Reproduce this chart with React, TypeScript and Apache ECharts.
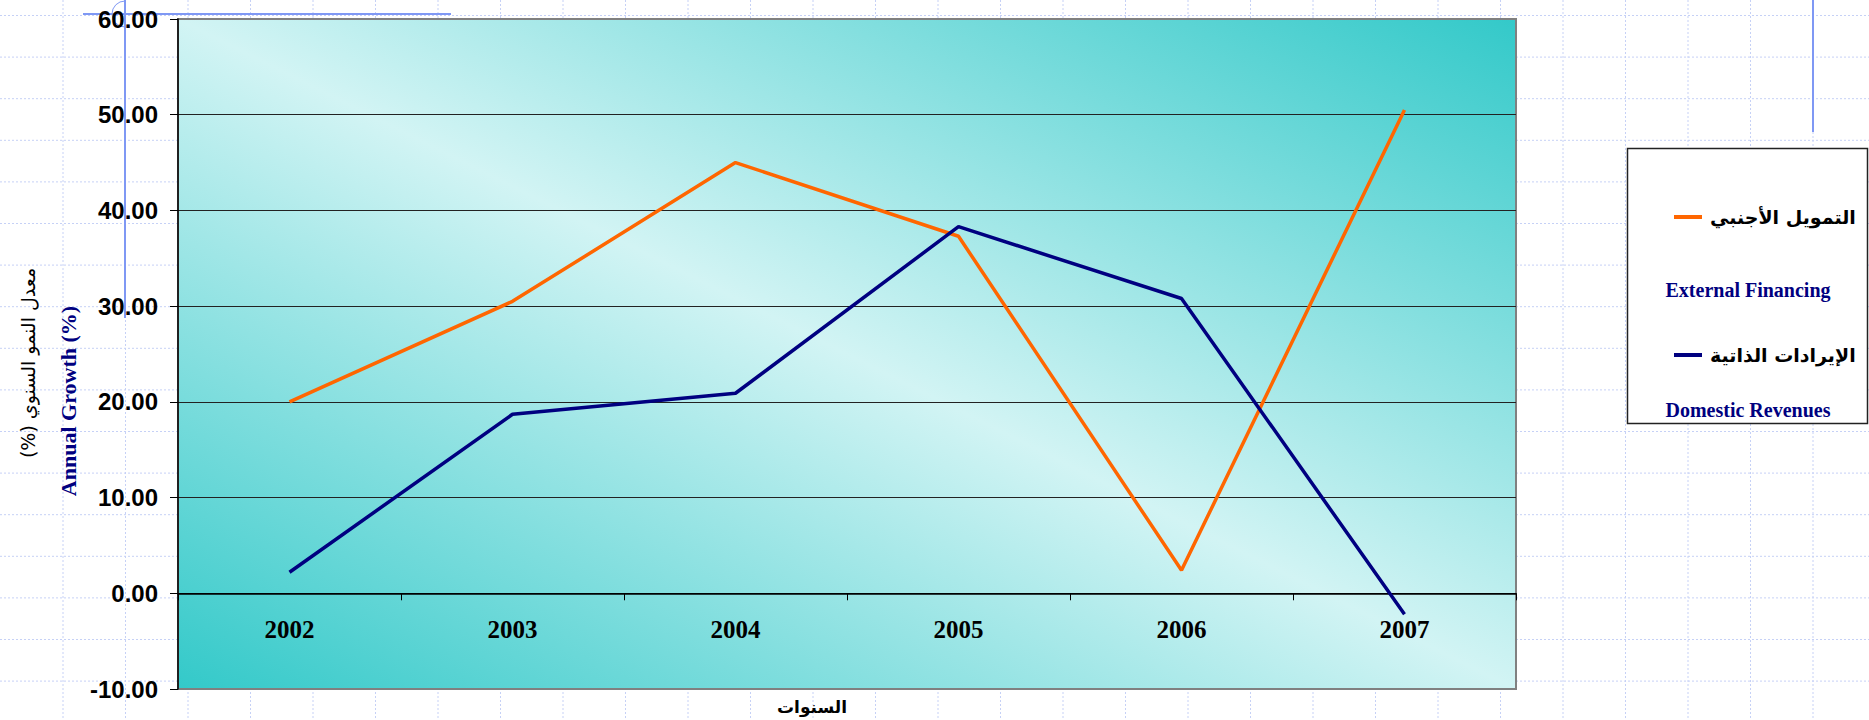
import React, { useEffect, useRef } from 'react';
import * as echarts from 'echarts';

const years = ['2002', '2003', '2004', '2005', '2006', '2007'];
const externalFinancing = [20.0, 30.5, 45.0, 37.3, 2.4, 50.5];
const domesticRevenues = [2.2, 18.7, 20.9, 38.3, 30.8, -2.2];
const seriesNamesAr = ['التمويل الأجنبي', 'الإيرادات الذاتية'];
const seriesNamesEn = ['External Financing', 'Domestic Revenues'];
const seriesColors = ['#ff6600', '#000080'];
const yMin = -10;
const yMax = 60;
const yStep = 10;
const yAxisTitleAr = 'معدل النمو السنوي (%)\u200F';
const yAxisTitleEn = 'Annual Growth (%)';
const xAxisTitle = 'السنوات';

const W = 1869;
const H = 720;

function backgroundGrid(): any[] {
  const els: any[] = [];
  const dot = { stroke: '#c6d1f6', lineWidth: 1, lineDash: [2, 2] };
  for (let k = 0; k <= 16; k++) {
    const y = 15.5 + 41.6 * k;
    els.push({ type: 'line', z: -20, silent: true, shape: { x1: 0, y1: y, x2: W, y2: y }, style: dot });
  }
  for (let k = 1; k <= 29; k++) {
    const x = 62.5 * k + 0.5;
    els.push({ type: 'line', z: -20, silent: true, shape: { x1: x, y1: 0, x2: x, y2: H }, style: dot });
  }
  const blue = { stroke: '#7f98f4', lineWidth: 2 };
  els.push({ type: 'line', z: -10, silent: true, shape: { x1: 83, y1: 14, x2: 451, y2: 14 }, style: blue });
  els.push({ type: 'line', z: -10, silent: true, shape: { x1: 125, y1: 0, x2: 125, y2: 318 }, style: blue });
  els.push({ type: 'arc', z: -10, silent: true, shape: { cx: 125, cy: 14, r: 13, startAngle: Math.PI / 2, endAngle: (3 * Math.PI) / 2 }, style: { stroke: '#7f98f4', lineWidth: 1, fill: 'none' } });
  els.push({ type: 'line', z: -10, silent: true, shape: { x1: 1813, y1: 0, x2: 1813, y2: 132 }, style: blue });
  return els;
}

function legendBox(): any[] {
  const els: any[] = [];
  els.push({ type: 'rect', z: 5, shape: { x: 1627.5, y: 148.5, width: 240, height: 275 }, style: { fill: '#ffffff', stroke: '#222', lineWidth: 1.5 } });
  const rows = [217, 355];
  const enRows = [290, 410];
  for (let i = 0; i < 2; i++) {
    els.push({ type: 'line', z: 6, shape: { x1: 1674, y1: rows[i], x2: 1702, y2: rows[i] }, style: { stroke: seriesColors[i], lineWidth: 4 } });
    els.push({ type: 'text', z: 6, x: 1710, y: rows[i], style: { text: seriesNamesAr[i], fill: '#000', font: 'bold 19px "DejaVu Sans", Arial, sans-serif', align: 'left', verticalAlign: 'middle' } });
    els.push({ type: 'text', z: 6, x: 1748, y: enRows[i], style: { text: seriesNamesEn[i], fill: '#000080', font: 'bold 20px "Liberation Serif", "Times New Roman", serif', align: 'center', verticalAlign: 'middle' } });
  }
  return els;
}

export default function App() {
  const ref = useRef<HTMLDivElement>(null);
  useEffect(() => {
    if (!ref.current) return;
    const chart = echarts.init(ref.current, null, { renderer: 'svg', width: W, height: H });
    const gx = 178, gy = 19, gw = 1338, gh = 670;
    // distance of the zero line above the grid bottom, from the value scale
    const zeroOffset = ((0 - yMin) / (yMax - yMin)) * gh;
    const option: any = {
      animation: false,
      backgroundColor: '#ffffff',
      grid: {
        left: gx,
        top: gy,
        width: gw,
        height: gh,
        containLabel: false,
        outerBoundsMode: 'none',
        show: true,
        borderColor: '#808080',
        borderWidth: 2,
        backgroundColor: new echarts.graphic.LinearGradient(0, 1, 1, 0, [
          { offset: 0, color: '#33c9c9' },
          { offset: 0.5, color: '#d2f4f4' },
          { offset: 1, color: '#33c9c9' },
        ]),
      },
      xAxis: {
        type: 'category',
        data: years,
        boundaryGap: true,
        position: 'bottom',
        offset: -zeroOffset,
        axisLine: { show: true, onZero: false, lineStyle: { color: '#000', width: 1.5 } },
        axisTick: { show: true, length: 7, lineStyle: { color: '#000', width: 1 } },
        axisLabel: {
          margin: 24,
          color: '#000',
          fontFamily: '"Liberation Serif", "Times New Roman", serif',
          fontWeight: 'bold',
          fontSize: 25,
        },
        splitLine: { show: false },
      },
      yAxis: {
        type: 'value',
        min: yMin,
        max: yMax,
        interval: yStep,
        axisLine: { show: true, lineStyle: { color: '#000', width: 1.5 } },
        axisTick: { show: true, length: 8, lineStyle: { color: '#000' } },
        axisLabel: {
          margin: 20,
          color: '#000',
          fontFamily: '"Liberation Sans", Arial, sans-serif',
          fontWeight: 'bold',
          fontSize: 24,
          formatter: (v: number) => v.toFixed(2),
        },
        splitLine: {
          show: true,
          lineStyle: { color: ['#808080', '#000', '#222', '#222', '#222', '#222', '#222', '#808080'], width: 1 },
        },
      },
      series: [
        {
          name: seriesNamesAr[0],
          type: 'line',
          data: externalFinancing,
          symbol: 'none',
          lineStyle: { color: seriesColors[0], width: 3.5 },
          itemStyle: { color: seriesColors[0] },
          z: 3,
        },
        {
          name: seriesNamesAr[1],
          type: 'line',
          data: domesticRevenues,
          symbol: 'none',
          lineStyle: { color: seriesColors[1], width: 3.5 },
          itemStyle: { color: seriesColors[1] },
          z: 4,
        },
      ],
      graphic: [
        ...backgroundGrid(),
        ...legendBox(),
        {
          type: 'text',
          x: 28,
          y: 363,
          rotation: Math.PI / 2,
          style: { text: yAxisTitleAr, fill: '#000', font: '19px "DejaVu Sans", Arial, sans-serif', align: 'center', verticalAlign: 'middle' },
        },
        {
          type: 'text',
          x: 68,
          y: 401,
          rotation: Math.PI / 2,
          style: { text: yAxisTitleEn, fill: '#000080', font: 'bold 22px "Liberation Serif", "Times New Roman", serif', align: 'center', verticalAlign: 'middle' },
        },
        {
          type: 'text',
          x: 812,
          y: 707,
          style: { text: xAxisTitle, fill: '#000', font: 'bold 17px "DejaVu Sans", Arial, sans-serif', align: 'center', verticalAlign: 'middle' },
        },
      ],
    };
    chart.setOption(option);
    return () => chart.dispose();
  }, []);
  return (
    <div
      ref={ref}
      style={{ position: 'fixed', left: 0, top: 0, width: W, height: H, background: '#fff' }}
    />
  );
}
